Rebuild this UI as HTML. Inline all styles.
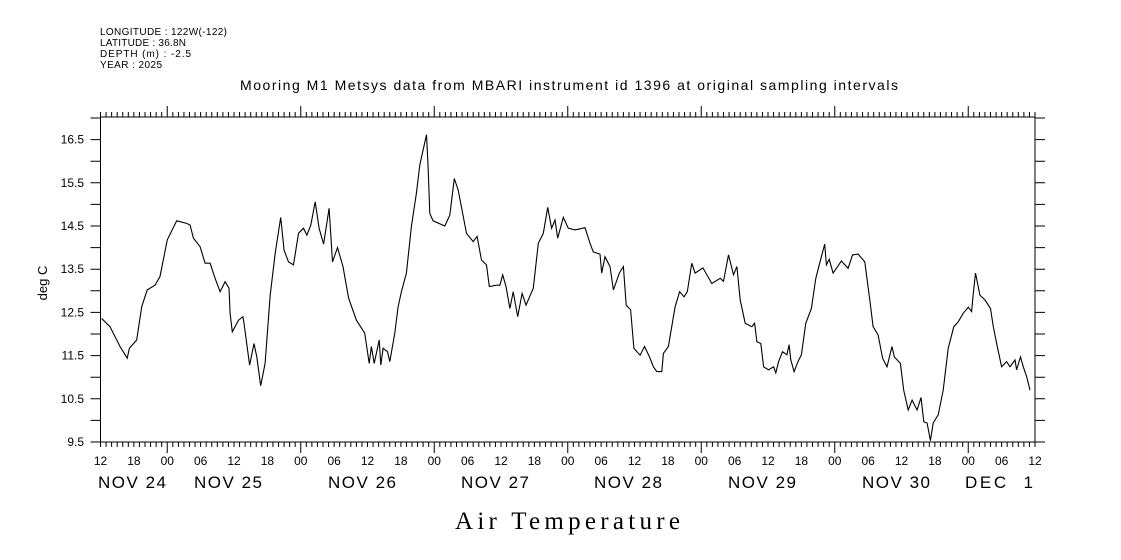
<!DOCTYPE html>
<html><head><meta charset="utf-8"><style>
body{margin:0;background:#fff;}
svg{display:block;font-family:"Liberation Sans",sans-serif;}
</style></head><body>
<svg id="chart" width="1121" height="560" viewBox="0 0 1121 560">
<g font-size="10" fill="#000">
<text x="100" y="35" textLength="127" lengthAdjust="spacing">LONGITUDE : 122W(-122)</text>
<text x="100" y="46" textLength="86" lengthAdjust="spacing">LATITUDE : 36.8N</text>
<text x="100" y="57" textLength="91" lengthAdjust="spacing">DEPTH (m) : -2.5</text>
<text x="100" y="68" textLength="62" lengthAdjust="spacing">YEAR : 2025</text>
</g>
<text x="240" y="90" font-size="14" textLength="658" lengthAdjust="spacing">Mooring M1 Metsys data from MBARI instrument id 1396 at original sampling intervals</text>
<text transform="translate(47,283) rotate(-90)" text-anchor="middle" font-size="13">deg C</text>
<text x="455" y="529" font-family="Liberation Serif, serif" font-size="25" textLength="225" lengthAdjust="spacing">Air Temperature</text>
<g id="axes"></g>
<path id="series" fill="none" stroke="#000" stroke-width="1.1"/>
</svg>
<script>
const hours=[0.2,1.7,3.5,4.8,5.2,6.5,7.4,8.4,9.8,10.7,12.0,13.7,15.5,16.1,16.7,17.9,18.8,19.7,20.6,21.5,22.4,23.1,23.3,23.7,24.8,25.6,25.8,26.8,27.6,28.1,28.8,29.6,30.5,31.4,32.4,33.0,33.8,34.7,35.6,36.5,37.1,37.8,38.6,39.3,40.1,41.1,41.7,42.6,43.6,44.6,46.0,47.5,48.3,48.7,49.2,50.1,50.4,50.8,51.6,52.0,52.9,53.5,54.1,55.0,55.9,56.8,57.4,58.0,58.6,58.9,59.2,59.8,61.9,62.8,63.6,64.3,65.8,67.0,67.7,68.5,69.4,69.9,71.2,71.8,72.3,72.9,73.6,74.2,75.0,75.8,76.5,77.8,78.7,79.6,80.4,81.1,81.7,82.2,83.2,84.1,85.3,87.1,88.0,88.6,89.8,90.1,90.7,91.6,92.2,93.3,94.0,94.5,95.3,95.9,97.0,97.8,98.7,99.4,100.0,100.9,101.2,102.1,103.3,104.1,104.9,105.5,106.3,106.9,108.3,109.9,111.4,112.0,112.9,113.8,114.4,115.0,115.9,117.1,117.6,118.0,118.7,119.2,120.1,121.0,121.4,121.9,122.6,123.4,123.8,124.1,124.7,125.4,126.0,126.8,127.8,128.6,129.3,130.2,130.5,131.0,131.7,133.2,134.4,135.2,136.2,137.4,138.3,138.9,139.8,140.6,141.4,142.3,142.7,143.8,144.4,145.2,145.9,146.8,147.5,148.0,148.6,149.2,149.7,150.6,151.5,152.4,153.4,154.2,155.1,156.0,156.6,156.9,157.3,158.1,159.0,160.0,160.5,161.2,162.0,162.9,163.5,164.4,164.7,165.4,165.9,166.5,167.1];
const temps=[12.36,12.17,11.71,11.44,11.67,11.86,12.63,13.02,13.13,13.33,14.18,14.62,14.56,14.52,14.22,14.02,13.64,13.64,13.29,12.98,13.21,13.06,12.48,12.05,12.32,12.40,12.25,11.28,11.78,11.47,10.80,11.32,12.90,13.87,14.70,13.94,13.67,13.60,14.33,14.45,14.29,14.52,15.06,14.45,14.08,14.91,13.67,14.00,13.56,12.83,12.32,12.02,11.32,11.71,11.32,11.86,11.28,11.67,11.59,11.36,12.02,12.63,12.98,13.41,14.49,15.26,15.91,16.26,16.61,15.87,14.79,14.62,14.50,14.75,15.60,15.33,14.33,14.14,14.26,13.71,13.60,13.10,13.13,13.13,13.37,13.10,12.59,12.98,12.40,12.94,12.67,13.06,14.10,14.33,14.93,14.45,14.64,14.22,14.70,14.45,14.41,14.46,14.10,13.90,13.85,13.41,13.79,13.56,13.02,13.42,13.56,12.67,12.56,11.67,11.51,11.71,11.47,11.24,11.13,11.13,11.55,11.71,12.63,12.98,12.86,12.98,13.64,13.41,13.53,13.17,13.29,13.22,13.83,13.37,13.56,12.79,12.25,12.17,12.25,11.82,11.78,11.24,11.17,11.24,11.10,11.36,11.59,11.52,11.75,11.40,11.13,11.36,11.52,12.25,12.59,13.29,13.64,14.08,13.60,13.73,13.41,13.69,13.52,13.83,13.85,13.67,12.79,12.17,11.98,11.44,11.24,11.71,11.47,11.32,10.70,10.24,10.47,10.24,10.53,9.97,9.94,9.53,9.94,10.13,10.70,11.67,12.17,12.28,12.48,12.62,12.52,12.94,13.41,12.90,12.79,12.59,12.17,11.72,11.24,11.36,11.24,11.40,11.17,11.47,11.24,11.01,10.70];
const yTicks=[9.5,10.5,11.5,12.5,13.5,14.5,15.5,16.5];
const hourLabels=["12","18","00","06","12","18","00","06","12","18","00","06","12","18","00","06","12","18","00","06","12","18","00","06","12","18","00","06","12"];
const dayLabels=["NOV 24","NOV 25","NOV 26","NOV 27","NOV 28","NOV 29","NOV 30","DEC  1"];
const dayLabelX=[98,194,328,461,594,728,862,965];

const L=100.5,R=1035,T=117,B=442,HMAX=168,VMIN=9.5,PX=43.2;
const xs=h=>L+h*(R-L)/HMAX;
const ys=v=>B-(v-VMIN)*PX;
const NS='http://www.w3.org/2000/svg';
const ax=document.getElementById('axes');
let d=`M${L} ${T}H${R}V${B}H${L}Z`;
for(let h=0;h<=HMAX;h++){
  const x=xs(h), major=(h%24===12);
  d+=`M${x} ${T}V${T-(major?11:5)}M${x} ${B}V${B+(major?11:5)}`;
}
for(let v=9.5;v<=17.01;v+=0.5){
  const y=ys(v);
  d+=`M${L} ${y}H${L-10}M${R} ${y}H${R+10}`;
}
const p=document.createElementNS(NS,'path');
p.setAttribute('d',d);p.setAttribute('stroke','#000');p.setAttribute('fill','none');p.setAttribute('stroke-width','1');


ax.appendChild(p);
function txt(x,y,s,anchor,size){
  const t=document.createElementNS(NS,'text');
  t.setAttribute('x',x);t.setAttribute('y',y);t.setAttribute('text-anchor',anchor);t.setAttribute('font-size',size);
  t.setAttribute('xml:space','preserve');t.style.whiteSpace='pre';
  t.textContent=s;ax.appendChild(t);return t;
}
yTicks.forEach(v=>{
  const t=txt(84,ys(v)+4,v.toFixed(1),'end',12);
  
  
});
hourLabels.forEach((s,i)=>{
  const t=txt(xs(i*6),465,s,'middle',12);
  
  
});
dayLabels.forEach((s,i)=>{
  const t=txt(dayLabelX[i],488,s,'start',17);
  t.setAttribute('textLength','68');
  t.setAttribute('lengthAdjust','spacing');
  
  
});
document.getElementById('series').setAttribute('d',hours.map((h,i)=>(i?'L':'M')+xs(h).toFixed(1)+' '+ys(temps[i]).toFixed(1)).join(''));
</script>
</body></html>
